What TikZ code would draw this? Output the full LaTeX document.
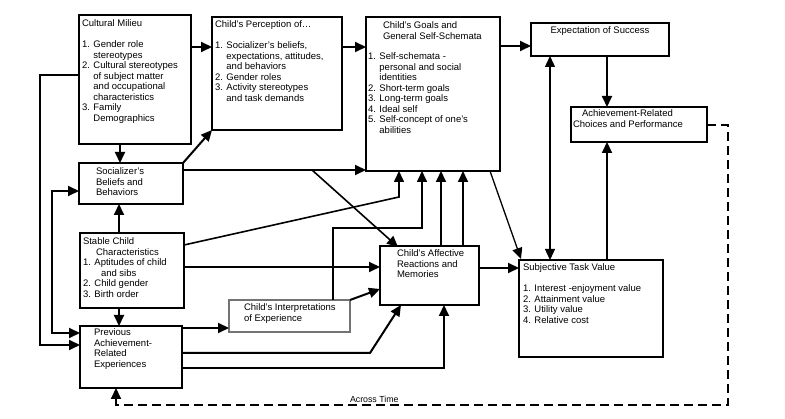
\documentclass[tikz,border=0pt]{standalone}
\usepackage{fontspec}
\setmainfont{Liberation Sans}
\usetikzlibrary{arrows.meta}
\begin{document}
\begin{tikzpicture}[x=1pt,y=-1pt,
  box/.style={draw, line width=2pt, inner sep=0pt, outer sep=0pt, anchor=north west},
  graybox/.style={draw=black!55, line width=1.3pt, inner sep=0pt, outer sep=0pt, anchor=north west},
  txt/.style={inner sep=0pt, outer sep=0pt, anchor=north west, align=left, font=\fontsize{9.5}{10.5}\selectfont},
  conn/.style={line width=2pt, -{Triangle[length=11pt,width=10pt]}},
  midconn/.style={line width=1.6pt, -{Triangle[length=11pt,width=10pt]}},
  thinconn/.style={line width=1.3pt, -{Triangle[length=11pt,width=10pt]}},
  twoconn/.style={line width=2pt, {Triangle[length=11pt,width=10pt]}-{Triangle[length=11pt,width=10pt]}},
  twothin/.style={line width=1.3pt, {Triangle[length=11pt,width=10pt]}-{Triangle[length=11pt,width=10pt]}},
  dashconn/.style={line width=2pt, dash pattern=on 9pt off 5pt, -{Triangle[length=11pt,width=10pt]}}
]
\useasboundingbox (0,0) rectangle (785,419);

% boxes
\node[box, minimum width=112pt, minimum height=129pt] (cm) at (79,15) {};
\node[box, minimum width=130pt, minimum height=113pt] (cp) at (212,17) {};
\node[box, minimum width=134pt, minimum height=154pt] (goals) at (366,17) {};
\node[box, minimum width=138pt, minimum height=33pt] (exp) at (531,23) {};
\node[box, minimum width=136pt, minimum height=35pt] (ach) at (571,107) {};
\node[box, minimum width=104pt, minimum height=41pt] (sb) at (79,163) {};
\node[box, minimum width=104pt, minimum height=75pt] (sc) at (80,233) {};
\node[box, minimum width=102pt, minimum height=62pt] (prev) at (80,326) {};
\node[graybox, minimum width=121pt, minimum height=32pt] (ci) at (229,300) {};
\node[box, minimum width=99pt, minimum height=59pt] (aff) at (380,246) {};
\node[box, minimum width=144pt, minimum height=97pt] (stv) at (519,260) {};

% texts
\node[txt] (cmt) at (82,20) {Cultural Milieu\\[10.5pt]1. Gender role\\\phantom{1. }stereotypes\\2. Cultural stereotypes\\\phantom{2. }of subject matter\\\phantom{2. }and occupational\\\phantom{2. }characteristics\\3. Family\\\phantom{3. }Demographics};
\node[txt] (cpt) at (215,21) {Child's Perception of…\\[10.5pt]1. Socializer's beliefs,\\\phantom{1. }expectations, attitudes,\\\phantom{1. }and behaviors\\2. Gender roles\\3. Activity stereotypes\\\phantom{3. }and task demands};
\node[txt] (gtt) at (383,22) {Child's Goals and\\General Self-Schemata};
\node[txt] (glt) at (368,53) {1. Self-schemata -\\\phantom{1. }personal and social\\\phantom{1. }identities\\2. Short-term goals\\3. Long-term goals\\4. Ideal self\\5. Self-concept of one's\\\phantom{5. }abilities};
\node[txt, anchor=north, align=center] (expt) at (600,27) {Expectation of Success};
\node[txt] (acht) at (573,110) {\hspace*{9pt}Achievement-Related\\Choices and Performance};
\node[txt] (sbt) at (96,168) {Socializer's\\Beliefs and\\Behaviors};
\node[txt] (sct) at (83,238) {Stable Child\\\hspace*{13pt}Characteristics\\1. Aptitudes of child\\\hspace*{18pt}and sibs\\2. Child gender\\3. Birth order};
\node[txt] (prevt) at (94,329) {Previous\\Achievement-\\Related\\Experiences};
\node[txt] (cit) at (244,304) {Child's Interpretations\\of Experience};
\node[txt] (afft) at (397,250) {Child's Affective\\Reactions and\\Memories};
\node[txt] (stvt) at (523,264) {Subjective Task Value\\[10.5pt]1. Interest -enjoyment value\\2. Attainment value\\3. Utility value\\4. Relative cost};
\node[txt, anchor=base west, font=\fontsize{8.8}{10}\selectfont] (across) at (350,403) {Across Time};

% free points
\coordinate (br) at (312,170);

% connectors
\draw[conn] (cm.east |- 0,47) -- (cp.west |- 0,47);
\draw[conn] (cp.east |- 0,47) -- (goals.west |- 0,47);
\draw[conn] (goals.east |- 0,46) -- (exp.west |- 0,46);
\draw[conn] (exp.south -| 607,0) -- (ach.north -| 607,0);
\draw[conn] (stv.north -| 607,0) -- (ach.south -| 607,0);
\draw[twothin] (exp.south -| 550,0) -- (stv.north -| 550,0);
\draw[thinconn] (goals.south -| 490,0) -- (521,259);
\draw[conn] (cm.south -| 120,0) -- (sb.north -| 120,0);
\draw[conn] (sb.north east) -- (cp.south west);
\draw[conn] (sb.east |- 0,170) -- (goals.west |- 0,170);
\draw[midconn] (br) -- ([xshift=18pt,yshift=-1pt]aff.north west);
\draw[midconn] (sc.east |- 0,245) -- (399,197) -- (goals.south -| 399,0);
\draw[conn] (sc.east |- 0,267) -- (aff.west |- 0,267);
\draw[midconn] (ci.north -| 333,0) -- (333,228) -- (422,228) -- (goals.south -| 422,0);
\draw[conn] (aff.north -| 441,0) -- (goals.south -| 441,0);
\draw[conn] (aff.north -| 463,0) -- (goals.south -| 463,0);
\draw[conn] (ci.north east) -- (aff.west |- 0,289);
\draw[conn] (aff.east |- 0,268) -- (stv.west |- 0,268);
\draw[conn] (prev.east |- 0,328) -- (ci.west |- 0,328);
\draw[conn] (prev.east |- 0,353) -- (370,353) -- (aff.south -| 401,0);
\draw[conn] (prev.east |- 0,368) -- (444,368) -- (aff.south -| 444,0);
\draw[conn] (sc.north -| 119,0) -- (sb.south -| 119,0);
\draw[conn] (sc.south -| 119,0) -- (prev.north -| 119,0);
\draw[conn] (cm.west |- 0,75) -- (40,75) -- (40,345) -- (prev.west |- 0,345);
\draw[twoconn] (sb.west |- 0,191) -- (52,191) -- (52,333) -- (prev.west |- 0,333);
\draw[dashconn] (ach.east |- 0,125) -- (728,125) -- (728,405) -- (116,405) -- (prev.south -| 116,0);
\end{tikzpicture}
\end{document}
